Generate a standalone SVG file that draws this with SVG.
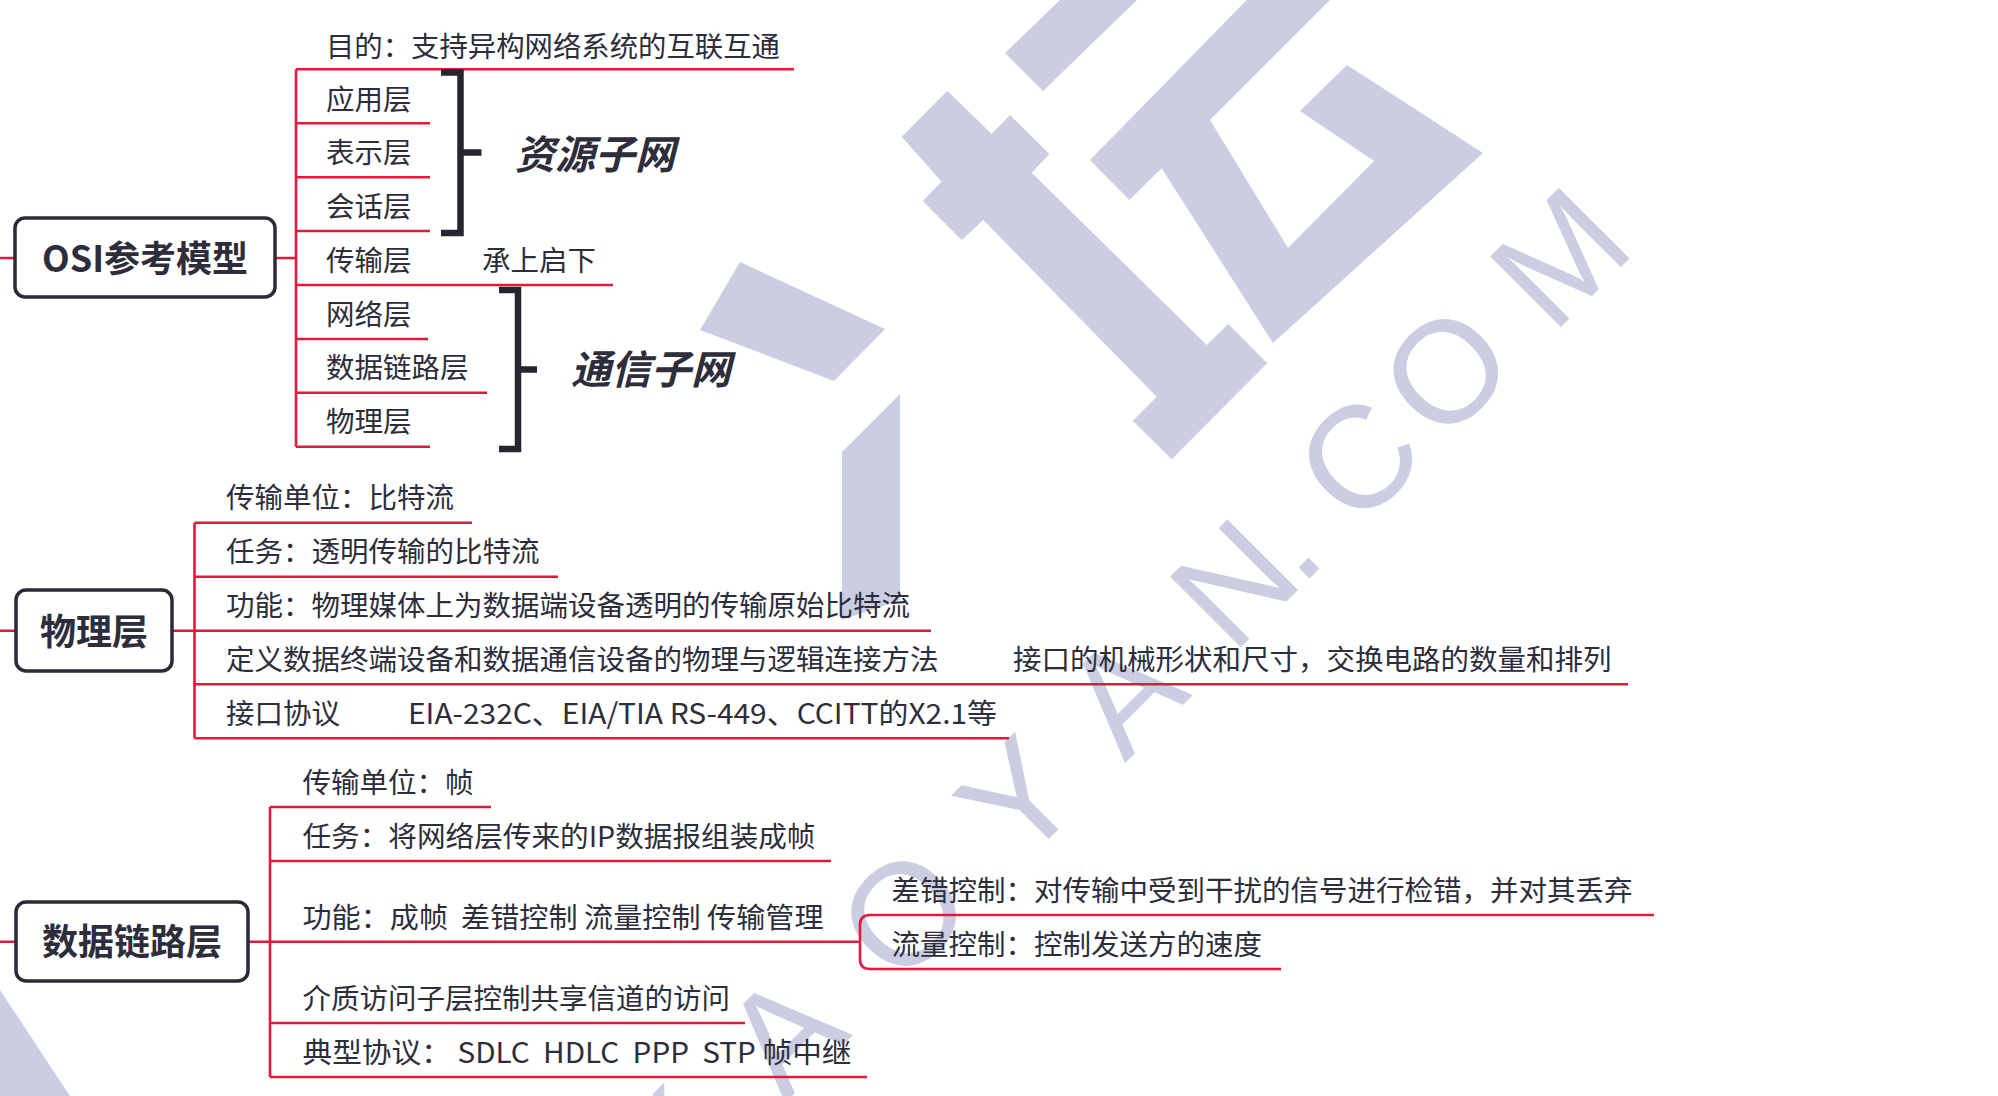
<svg xmlns="http://www.w3.org/2000/svg" width="1998" height="1096" viewBox="0 0 1998 1096">
<style>
.t{font-family:"Noto Sans CJK SC","Noto Sans",sans-serif;font-size:28.5px;fill:#2d2d3b}
.tb{font-family:"Noto Sans CJK SC","Noto Sans",sans-serif;font-size:36px;font-weight:bold;fill:#2d2d3b;text-anchor:middle}
.bi{font-family:"Noto Sans CJK SC","Noto Sans",sans-serif;font-size:40px;font-weight:bold;font-style:italic;fill:#2d2d3b}
.ln{stroke:#e2193b;stroke-width:2.6;fill:none}
.box{fill:#fff;stroke:#2b2b38;stroke-width:3.5}
.br{stroke:#262630;stroke-width:6.5;fill:none;stroke-linejoin:miter}
.wm{fill:#cbcde2}
.wt{font-family:"Liberation Sans",sans-serif;font-size:145px;fill:#cbcde2;text-anchor:middle}
</style>
<rect width="1998" height="1096" fill="#fff"/>
<g id="watermark">
<polygon class="wm" points="1060,0 1137,0 1043,91 1005,53"/>
<polygon class="wm" points="947.3,90.7 991.7,134 1010,115 1049.3,154 1031.7,172.7 1206.7,345 1228.3,324 1267.3,363.3 1171.7,459.3 1132.7,420.7 1156.7,396.7 983.3,220 961.7,240 922.7,201 941.7,181.7 901.7,136.7"/>
<polygon class="wm" points="1090,160 1246.7,0 1330,0 1210,120 1288,248 1374,161 1300,111 1347,65 1483,153 1273,343 1161.7,168.3 1129.3,200"/>
<polygon class="wm" points="885,329 834,381 700,330 740,262"/>
<polygon class="wm" points="900,394 842,452 842,620 900,600"/>
<polygon class="wm" points="0,990 70,1096 0,1096"/>
<text class="wt" transform="rotate(-45)" y="1335"><tspan x="-337">K</tspan><tspan x="-177">A</tspan><tspan x="-7">O</tspan><tspan x="155">Y</tspan><tspan x="304">A</tspan><tspan x="460">N</tspan><tspan x="524">.</tspan><tspan x="636">C</tspan><tspan x="760">O</tspan><tspan x="921">M</tspan></text>
</g>
<g id="connectors">
<path class="ln" d="M0 258H15M275 258H296M296 69.3V446.7M296 69.3H794M296 123.3H430M296 177.3H430M296 231H430M296 285H613M296 339H428M296 392.7H487M296 446.7H430"/>
<path class="ln" d="M0 630.7H16M172 630.7H194.5M194.5 522.7V738.3M194.5 522.7H472M194.5 576.7H558M194.5 630.7H931M194.5 684.3H1628M194.5 738.3H1009"/>
<path class="ln" d="M0 941.7H16M248 941.7H270M270 807V1077M270 807H491M270 861H831M270 941.7H860M270 1023H745M270 1077H867"/>
<path class="ln" d="M1654 915H870Q860 915 860 925V959Q860 969 870 969H1281"/>
<path class="br" d="M441 72.5H460.5V233H441M460.5 152.5H481.5"/>
<path class="br" d="M499 290H518V449H499M518 369.5H537"/>
</g>
<g id="osi">
<rect class="box" x="15" y="218" width="260" height="79" rx="10"/>
<text class="tb" x="145" y="272">OSI参考模型</text>
</g>
<g id="osi-goal"><text class="t" x="326" y="57" textLength="454" lengthAdjust="spacingAndGlyphs">目的：支持异构网络系统的互联互通</text></g>
<g id="osi-app"><text class="t" x="326" y="110">应用层</text></g>
<g id="osi-pres"><text class="t" x="326" y="163">表示层</text></g>
<g id="osi-sess"><text class="t" x="326" y="217">会话层</text></g>
<g id="osi-trans"><text class="t" x="326" y="271">传输层</text></g>
<g id="osi-trans-note"><text class="t" x="482" y="271">承上启下</text></g>
<g id="osi-net"><text class="t" x="326" y="325">网络层</text></g>
<g id="osi-dl"><text class="t" x="326" y="378">数据链路层</text></g>
<g id="osi-phy"><text class="t" x="326" y="432">物理层</text></g>
<g id="res-net"><text class="bi" x="515" y="169">资源子网</text></g>
<g id="comm-net"><text class="bi" x="571" y="384">通信子网</text></g>
<g id="phy">
<rect class="box" x="16" y="590" width="156" height="81" rx="10"/>
<text class="tb" x="94" y="645">物理层</text>
</g>
<g id="phy-unit"><text class="t" x="226" y="508">传输单位：比特流</text></g>
<g id="phy-task"><text class="t" x="226" y="562">任务：透明传输的比特流</text></g>
<g id="phy-func"><text class="t" x="226" y="616">功能：物理媒体上为数据端设备透明的传输原始比特流</text></g>
<g id="phy-def"><text class="t" x="226" y="670">定义数据终端设备和数据通信设备的物理与逻辑连接方法</text></g>
<g id="phy-def-note"><text class="t" x="1013" y="670">接口的机械形状和尺寸，交换电路的数量和排列</text></g>
<g id="phy-if"><text class="t" x="226" y="724">接口协议</text></g>
<g id="phy-if-list"><text class="t" x="408" y="724" textLength="589" lengthAdjust="spacingAndGlyphs">EIA-232C、EIA/TIA RS-449、CCITT的X2.1等</text></g>
<g id="dl">
<rect class="box" x="16" y="902" width="232" height="79" rx="10"/>
<text class="tb" x="132" y="955">数据链路层</text>
</g>
<g id="dl-unit"><text class="t" x="302.5" y="793">传输单位：帧</text></g>
<g id="dl-task"><text class="t" x="302.5" y="847" textLength="513" lengthAdjust="spacingAndGlyphs">任务：将网络层传来的IP数据报组装成帧</text></g>
<g id="dl-func"><text class="t" x="302.5" y="928" xml:space="preserve" textLength="521" lengthAdjust="spacingAndGlyphs">功能：成帧  差错控制 流量控制 传输管理</text></g>
<g id="dl-err"><text class="t" x="891.5" y="901">差错控制：对传输中受到干扰的信号进行检错，并对其丢弃</text></g>
<g id="dl-flow"><text class="t" x="891.5" y="955">流量控制：控制发送方的速度</text></g>
<g id="dl-mac"><text class="t" x="302.5" y="1009">介质访问子层控制共享信道的访问</text></g>
<g id="dl-proto"><text class="t" x="302.5" y="1063" xml:space="preserve" textLength="549" lengthAdjust="spacingAndGlyphs">典型协议： SDLC  HDLC  PPP  STP 帧中继</text></g>
</svg>
